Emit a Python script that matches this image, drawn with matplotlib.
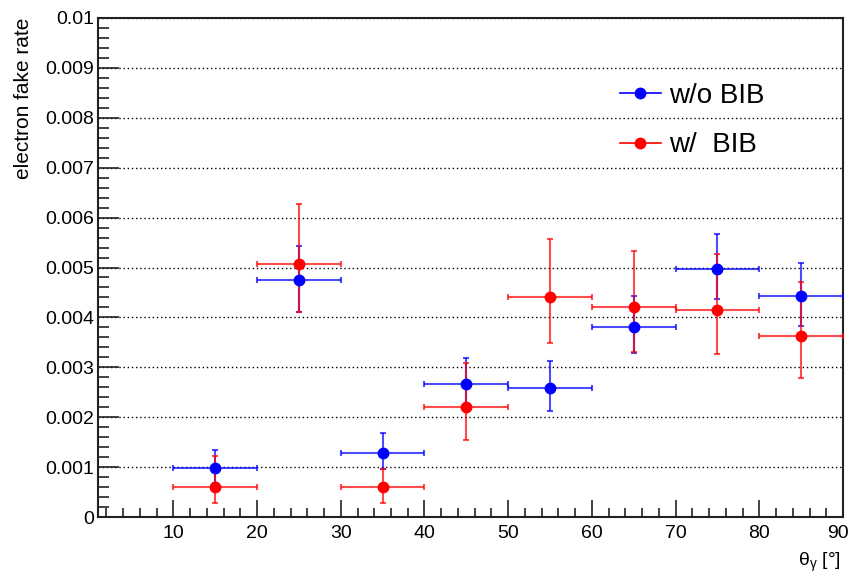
import matplotlib
matplotlib.use("Agg")
import matplotlib.pyplot as plt
import matplotlib.transforms as mtransforms
from matplotlib.lines import Line2D
from matplotlib.ticker import MultipleLocator, FixedLocator, FixedFormatter

plt.rcParams['font.family'] = ['Liberation Sans', 'DejaVu Sans']
plt.rcParams['mathtext.fontset'] = 'custom'
plt.rcParams['mathtext.rm'] = 'Liberation Sans'
plt.rcParams['mathtext.it'] = 'Liberation Sans:italic'

# photon polar angle bins (centres and half-widths, degrees)
theta = [15, 25, 35, 45, 55, 65, 75, 85]
theta_halfwidth = [5, 5, 5, 5, 5, 5, 5, 5]

# fake rate without beam-induced background
rate_nobib = [0.00099, 0.00475, 0.00129, 0.00266, 0.00258, 0.00381, 0.00497, 0.00443]
err_nobib_lo = [0.00031, 0.00064, 0.00032, 0.00046, 0.00045, 0.00052, 0.00061, 0.00060]
err_nobib_hi = [0.00035, 0.00069, 0.00040, 0.00052, 0.00054, 0.00062, 0.00070, 0.00067]

# fake rate with beam-induced background
rate_bib = [0.00060, 0.00508, 0.00061, 0.00221, 0.00441, 0.00420, 0.00415, 0.00363]
err_bib_lo = [0.00031, 0.00097, 0.00032, 0.00066, 0.00092, 0.00090, 0.00089, 0.00084]
err_bib_hi = [0.00062, 0.00119, 0.00036, 0.00087, 0.00116, 0.00113, 0.00113, 0.00107]

series_labels = ["w/o BIB", "w/  BIB"]
y_ticks = [0, 0.001, 0.002, 0.003, 0.004, 0.005, 0.006, 0.007, 0.008, 0.009, 0.01]
y_tick_labels = ["0", "0.001", "0.002", "0.003", "0.004", "0.005", "0.006",
                 "0.007", "0.008", "0.009", "0.01"]
x_ticks = [10, 20, 30, 40, 50, 60, 70, 80, 90]

fig = plt.figure(figsize=(8.51, 5.73), dpi=100)
ax = fig.add_axes([0.1152, 0.0977, 0.8754, 0.8709])

blue = (0, 0, 1)
red = (1, 0, 0)

for rate, lo, hi, col in [(rate_nobib, err_nobib_lo, err_nobib_hi, blue),
                          (rate_bib, err_bib_lo, err_bib_hi, red)]:
    eb = ax.errorbar(theta, rate, xerr=theta_halfwidth, yerr=[lo, hi],
                     fmt='o', color=col, ecolor=col, elinewidth=1.5,
                     capsize=2.5, capthick=1.5, markersize=7.5, zorder=3)
    for part in eb[1] + eb[2]:
        part.set_alpha(0.7)

ax.set_xlim(1, 90)
ax.set_ylim(0, 0.01)

ax.xaxis.set_major_locator(FixedLocator(x_ticks))
ax.xaxis.set_minor_locator(MultipleLocator(2))
ax.yaxis.set_major_locator(FixedLocator(y_ticks))
ax.yaxis.set_major_formatter(FixedFormatter(y_tick_labels))
ax.yaxis.set_minor_locator(MultipleLocator(0.0002))

ax.tick_params(axis='both', which='both', direction='in', top=False, right=False,
               labelsize=14, width=1.2, color='#222222')
ax.tick_params(axis='y', which='major', length=15, pad=3)
ax.tick_params(axis='y', which='minor', length=8)
ax.tick_params(axis='x', which='major', length=12, pad=6)
ax.tick_params(axis='x', which='minor', length=6.5)

ax.yaxis.grid(True, which='major', linestyle=(0, (1, 2)), color='black', linewidth=1.0)
ax.set_axisbelow(True)

for sp in ax.spines.values():
    sp.set_linewidth(1.5)
    sp.set_color('#222222')

# keep the last x tick label inside the canvas
fig.canvas.draw()
last_label = ax.get_xticklabels()[-1]
last_label.set_transform(last_label.get_transform() +
                         mtransforms.ScaledTranslation(-5 / 100, 0, fig.dpi_scale_trans))

ax.set_ylabel("electron fake rate", fontsize=15, loc='top')
ax.yaxis.set_label_coords(-0.087, 1.0)
ax.set_xlabel(r"θ$_{\mathrm{γ}}$ [°]", fontsize=14, loc='right')
ax.xaxis.set_label_coords(0.997, -0.068)

handles = [Line2D([], [], color=blue, marker='o', markersize=7.5, linewidth=1.2),
           Line2D([], [], color=red, marker='o', markersize=7.5, linewidth=1.2)]
ax.legend(handles, series_labels, loc='upper left', bbox_to_anchor=(0.70, 0.870),
          frameon=False, fontsize=20, handlelength=1.5, handletextpad=0.3,
          labelspacing=0.85, borderpad=0, borderaxespad=0)

fig.savefig("out.png", dpi=100)
